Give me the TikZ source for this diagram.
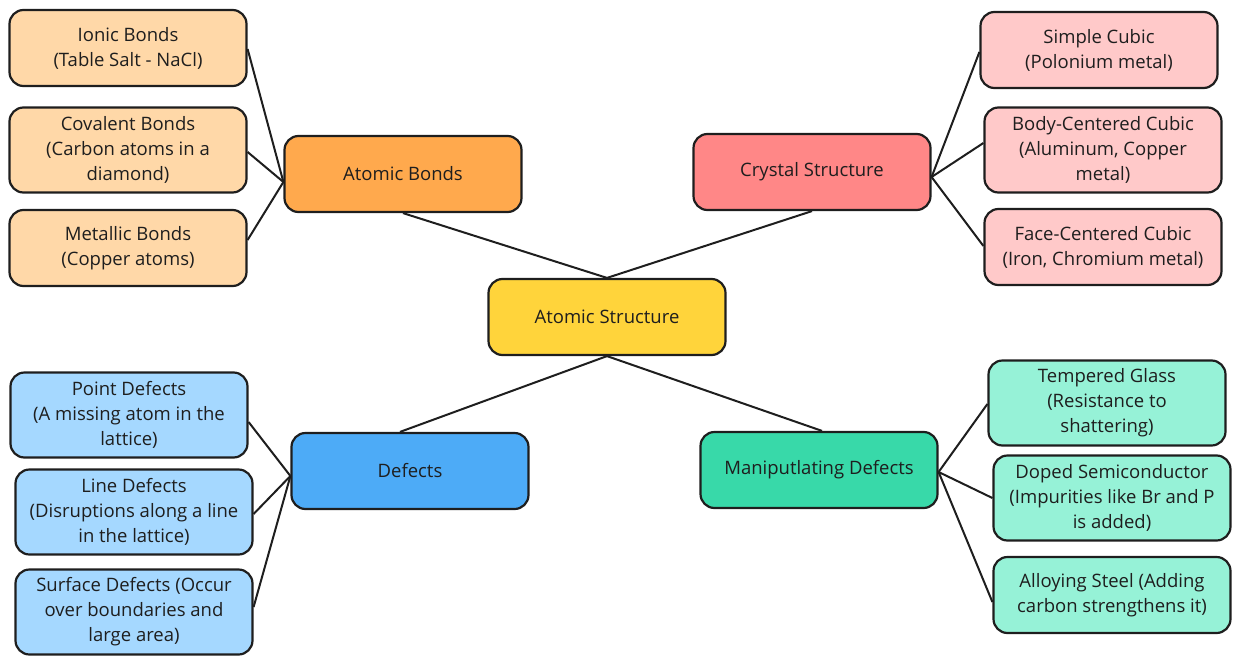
\documentclass[tikz,border=0pt]{standalone}
\usepackage{fontspec}
\setmainfont{Open Sans}
\definecolor{peach}{HTML}{FFD8A8}
\definecolor{orangeM}{HTML}{FFA94D}
\definecolor{redM}{HTML}{FF8787}
\definecolor{pinkL}{HTML}{FFC9C9}
\definecolor{yellowM}{HTML}{FFD43B}
\definecolor{blueM}{HTML}{4DABF7}
\definecolor{blueL}{HTML}{A5D8FF}
\definecolor{greenM}{HTML}{38D9A9}
\definecolor{greenL}{HTML}{96F2D7}
\definecolor{inkc}{HTML}{1E1E1E}
\begin{document}
\begin{tikzpicture}[x=1pt,y=-1pt,
  box/.style={draw=inkc, line width=2.2pt, rounded corners=14pt, align=center,
    minimum width=237pt, minimum height=76pt, inner sep=0pt,
    font=\fontsize{18.5}{25}\selectfont, text=inkc},
  tallbox/.style={box, minimum height=85pt},
  link/.style={draw=inkc, line width=2pt}]
\useasboundingbox (0,0) rectangle (1240,664);
% center
\node[box, fill=yellowM] (root) at (607,317) {Atomic Structure};
% main branches
\node[box, fill=orangeM] (ab) at (403,174) {Atomic Bonds};
\node[box, fill=redM] (cs) at (812,172) {Crystal Structure};
\node[box, fill=blueM] (df) at (410,471) {Defects};
\node[box, fill=greenM] (md) at (819,470) {Maniputlating Defects};
% atomic bonds children
\node[box, fill=peach] (ionic) at (128,48) {Ionic Bonds\\(Table Salt - NaCl)};
\node[tallbox, fill=peach] (cov) at (128,150) {Covalent Bonds\\(Carbon atoms in a\\diamond)};
\node[box, fill=peach] (met) at (128,248) {Metallic Bonds\\(Copper atoms)};
% crystal children
\node[box, fill=pinkL] (sc) at (1099,50) {Simple Cubic\\(Polonium metal)};
\node[tallbox, fill=pinkL] (bcc) at (1103,150) {Body-Centered Cubic\\(Aluminum, Copper\\metal)};
\node[box, fill=pinkL] (fcc) at (1103,247) {Face-Centered Cubic\\(Iron, Chromium metal)};
% defects children
\node[tallbox, fill=blueL] (pd) at (129,415) {Point Defects\\(A missing atom in the\\lattice)};
\node[tallbox, fill=blueL] (ld) at (134,512) {Line Defects\\(Disruptions along a line\\in the lattice)};
\node[tallbox, fill=blueL] (sd) at (134,612) {Surface Defects (Occur\\over boundaries and\\large area)};
% manipulating children
\node[tallbox, fill=greenL] (tg) at (1107,403) {Tempered Glass\\(Resistance to\\shattering)};
\node[tallbox, fill=greenL] (ds) at (1112,498) {Doped Semiconductor\\(Impurities like Br and P\\is added)};
\node[box, fill=greenL] (as) at (1112,595) {Alloying Steel (Adding\\carbon strengthens it)};
% connectors root
\draw[link] (root.north) -- (ab.south);
\draw[link] (root.north) -- (cs.south);
\draw[link] (root.south) -- ([xshift=-10pt]df.north);
\draw[link] (root.south) -- ([xshift=3pt]md.north);
% atomic bonds
\draw[link] ([yshift=-8pt]ab.west) -- ([yshift=-1pt]ionic.east);
\draw[link] ([yshift=-8pt]ab.west) -- ([yshift=-2pt]cov.east);
\draw[link] ([yshift=-8pt]ab.west) -- ([yshift=8pt]met.east);
% crystal
\draw[link] ([yshift=-5pt]cs.east) -- ([yshift=-2pt]sc.west);
\draw[link] ([yshift=-5pt]cs.east) -- ([yshift=7pt]bcc.west);
\draw[link] ([yshift=-5pt]cs.east) -- ([yshift=1pt]fcc.west);
% defects
\draw[link] ([yshift=-5pt]df.west) -- ([yshift=-7pt]pd.east);
\draw[link] ([yshift=-5pt]df.west) -- ([yshift=-2pt]ld.east);
\draw[link] ([yshift=-5pt]df.west) -- ([yshift=5pt]sd.east);
% manipulating
\draw[link] ([yshift=-2pt]md.east) -- ([yshift=-1pt]tg.west);
\draw[link] ([yshift=-2pt]md.east) -- (ds.west);
\draw[link] ([yshift=-2pt]md.east) -- ([yshift=-7pt]as.west);
\end{tikzpicture}
\end{document}
